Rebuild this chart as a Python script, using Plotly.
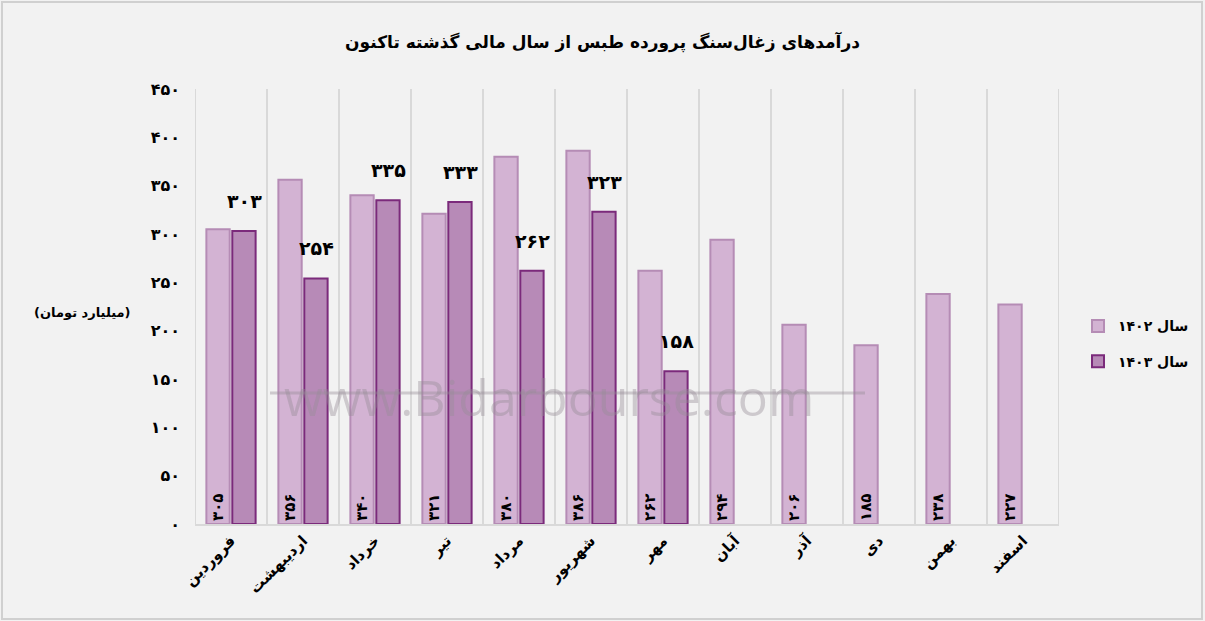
import plotly.graph_objects as go

months = ["فروردین", "اردیبهشت", "خرداد", "تیر", "مرداد", "شهریور",
          "مهر", "آبان", "آذر", "دی", "بهمن", "اسفند"]
rev_1402 = [305, 356, 340, 321, 380, 386, 262, 294, 206, 185, 238, 227]
rev_1403 = [303, 254, 335, 333, 262, 323, 158]
y_ticks = [0, 50, 100, 150, 200, 250, 300, 350, 400, 450]
series_names = ["سال ۱۴۰۲", "سال ۱۴۰۳"]
title_text = "درآمدهای زغال‌سنگ پرورده طبس از سال مالی گذشته تاکنون"
unit_text = "(میلیارد تومان)"
wm_url = "www.Bidarbourse.com"

FA = str.maketrans("0123456789", "۰۱۲۳۴۵۶۷۸۹")
def fa(v):
    return str(v).translate(FA)

FONT = "DejaVu Sans"

fig = go.Figure()
fig.add_trace(go.Bar(
    x=months, y=rev_1402, name=series_names[0], legendgroup="a",
    marker=dict(color="#d3b3d3", line=dict(color="#b58cb5", width=2)),
    text=[fa(v) for v in rev_1402], textposition="inside",
    insidetextanchor="start", textangle=-90, constraintext="none",
    textfont=dict(family=FONT, size=15, color="black", weight="bold"),
))
fig.add_trace(go.Bar(
    x=months[:len(rev_1403)], y=rev_1403, name=series_names[1], legendgroup="b",
    marker=dict(color="#b78ab7", line=dict(color="#7b2a7b", width=2)),
))

annotations = []
annotations.append(dict(
    x=0.41, y=0.21, xref="paper", yref="paper", text=wm_url,
    showarrow=False, font=dict(family="Open Sans", size=50, color="rgba(150,140,150,0.4)"),
))
for m, v in zip(months, rev_1403):
    annotations.append(dict(
        x=m, y=v, xref="x", yref="y", text=fa(v), showarrow=False,
        xshift=13, yshift=30,
        font=dict(family=FONT, size=19, color="black", weight="bold"),
    ))
annotations.append(dict(
    x=-0.13, y=0.487, xref="paper", yref="paper", text=unit_text,
    xanchor="center", yanchor="middle",
    showarrow=False, font=dict(family=FONT, size=13, color="black", weight="bold"),
))

fig.update_layout(
    width=1205, height=621,
    paper_bgcolor="#f2f2f2", plot_bgcolor="#f2f2f2",
    margin=dict(l=195, r=146, t=89, b=97, autoexpand=False),
    title=dict(text=title_text, x=0.5, xref="container", y=0.933, yref="container",
               xanchor="center", yanchor="middle", automargin=False,
               font=dict(family=FONT, size=17, color="black", weight="bold")),
    barmode="group", bargap=0.28, bargroupgap=0.1,
    showlegend=True,
    legend=dict(x=1.022, y=0.414, xanchor="left", yanchor="middle",
                bgcolor="rgba(0,0,0,0)", traceorder="grouped", tracegroupgap=14,
                font=dict(family=FONT, size=14, color="black", weight="bold")),
    annotations=annotations,
    xaxis=dict(
        tickangle=-45, showgrid=False, showline=True, linecolor="#d9d9d9",
        linewidth=2, ticks="", mirror=False, automargin=False,
        range=[-0.5, len(months) - 0.5],
        tickfont=dict(family=FONT, size=15, color="black", weight="bold"),
    ),
    yaxis=dict(
        range=[0, 450], tickvals=y_ticks, ticktext=[fa(v) for v in y_ticks],
        showgrid=False, zeroline=False, showline=False, ticks="",
        ticklabelstandoff=14, automargin=False,
        tickfont=dict(family=FONT, size=16, color="black", weight="bold"),
    ),
)

shapes = []
for i in range(len(months) + 1):
    shapes.append(dict(type="line", xref="x", yref="paper",
                       x0=i - 0.5, x1=i - 0.5, y0=0, y1=1,
                       line=dict(color="#d9d9d9", width=2), layer="below"))
shapes.append(dict(type="line", xref="paper", yref="paper",
                   x0=75 / 864, x1=670 / 864, y0=131 / 435, y1=131 / 435,
                   line=dict(color="rgba(150,140,150,0.4)", width=3)))
shapes.append(dict(type="rect", xref="paper", yref="paper",
                   x0=-193 / 864, x1=1 + 143 / 864, y0=-95 / 435, y1=1 + 87 / 435,
                   line=dict(color="#d0d0d0", width=2)))
fig.update_layout(shapes=shapes)

fig.write_html(
    "out.html",
    config={"displayModeBar": False},
    post_script="document.body.style.margin='0';document.body.style.background='#f2f2f2';",
)
